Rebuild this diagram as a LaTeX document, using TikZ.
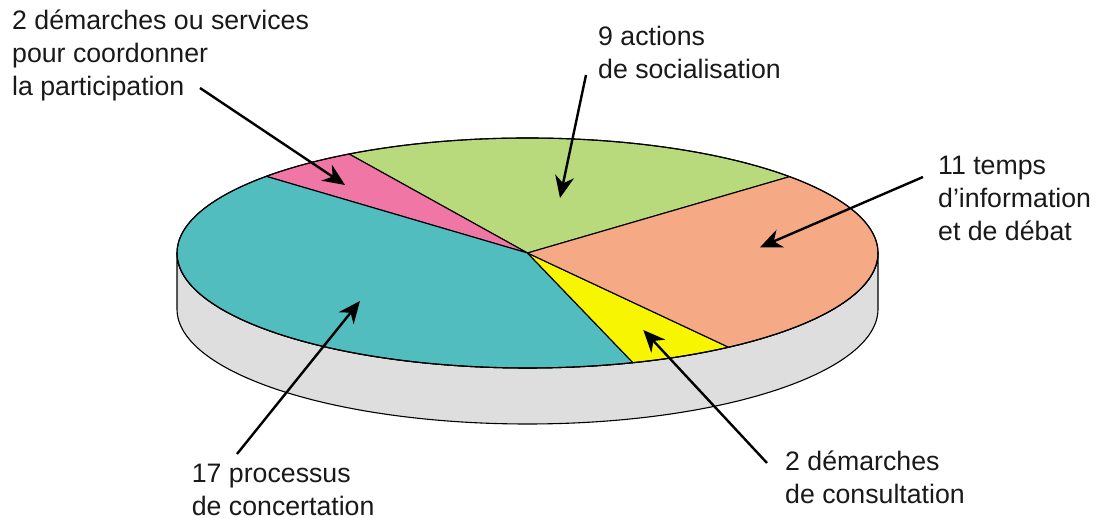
\documentclass[tikz,border=0pt]{standalone}
\usepackage{fontspec}
\setmainfont{Liberation Sans}
\usetikzlibrary{arrows.meta,calc}
\definecolor{cgreen}{RGB}{184,217,124}
\definecolor{cpink}{RGB}{240,119,165}
\definecolor{cteal}{RGB}{82,189,190}
\definecolor{cyellow}{RGB}{247,245,0}
\definecolor{csalmon}{RGB}{245,170,133}
\definecolor{cside}{RGB}{222,222,222}
\begin{document}
\begin{tikzpicture}[x=1pt,y=1pt,
  lbl/.style={font=\fontsize{26.7}{33}\selectfont, align=left, inner sep=0pt, anchor=base west, text=black!90},
  ptr/.style={line width=2.4pt, -{Stealth[length=22pt,width=19pt,inset=7pt]}},
  slice/.style={draw=black, line width=1.1pt, line join=round}]
\useasboundingbox (0,0) rectangle (1098,518);
\def\rx{350.5}\def\ry{115}\def\dd{56}
\coordinate (C) at (527.5,265);
% side
\filldraw[slice, fill=cside] ($(C)+(-\rx,0)$) -- ($(C)+(-\rx,-\dd)$)
  arc[start angle=180, end angle=360, x radius=\rx, y radius=\ry]
  -- ($(C)+(\rx,0)$)
  arc[start angle=360, end angle=180, x radius=\rx, y radius=\ry] -- cycle;
% slices
\filldraw[slice, fill=cgreen] (C) -- ($(C)+(41.6:\rx pt and \ry pt)$)
  arc[start angle=41.6, end angle=120.6, x radius=\rx, y radius=\ry] -- cycle;
\filldraw[slice, fill=cpink] (C) -- ($(C)+(120.6:\rx pt and \ry pt)$)
  arc[start angle=120.6, end angle=138.2, x radius=\rx, y radius=\ry] -- cycle;
\filldraw[slice, fill=cteal] (C) -- ($(C)+(138.2:\rx pt and \ry pt)$)
  arc[start angle=138.2, end angle=287.5, x radius=\rx, y radius=\ry] -- cycle;
\filldraw[slice, fill=cyellow] (C) -- ($(C)+(287.5:\rx pt and \ry pt)$)
  arc[start angle=287.5, end angle=305.0, x radius=\rx, y radius=\ry] -- cycle;
\filldraw[slice, fill=csalmon] (C) -- ($(C)+(305.0:\rx pt and \ry pt)$)
  arc[start angle=305.0, end angle=401.6, x radius=\rx, y radius=\ry] -- cycle;
\draw[slice] (C) ellipse[x radius=\rx, y radius=\ry];
% labels (anchor = baseline of the last line)
\node[lbl] (lcoord) at (12,422) {2 démarches ou services\\pour coordonner\\la participation};
\node[lbl] (lsocial) at (598,439) {9 actions\\de socialisation};
\node[lbl] (linfo) at (938,277) {11 temps\\d’information\\et de débat};
\node[lbl] (lconcert) at (191.7,2) {17 processus\\de concertation};
\node[lbl] (lconsult) at (785,14) {2 démarches\\de consultation};
% arrow ends
\coordinate (scoord) at (200,430);  \coordinate (tcoord) at (345,333);
\coordinate (ssocial) at (586,443); \coordinate (tsocial) at (560,320);
\coordinate (sinfo) at (923,341);   \coordinate (tinfo) at (760,270.7);
\coordinate (sconcert) at (237,64); \coordinate (tconcert) at (360,217);
\coordinate (sconsult) at (767,55); \coordinate (tconsult) at (643.3,188);
\draw[ptr] (scoord) -- (tcoord);
\draw[ptr] (ssocial) -- (tsocial);
\draw[ptr] (sinfo) -- (tinfo);
\draw[ptr] (sconcert) -- (tconcert);
\draw[ptr] (sconsult) -- (tconsult);
\end{tikzpicture}
\end{document}
